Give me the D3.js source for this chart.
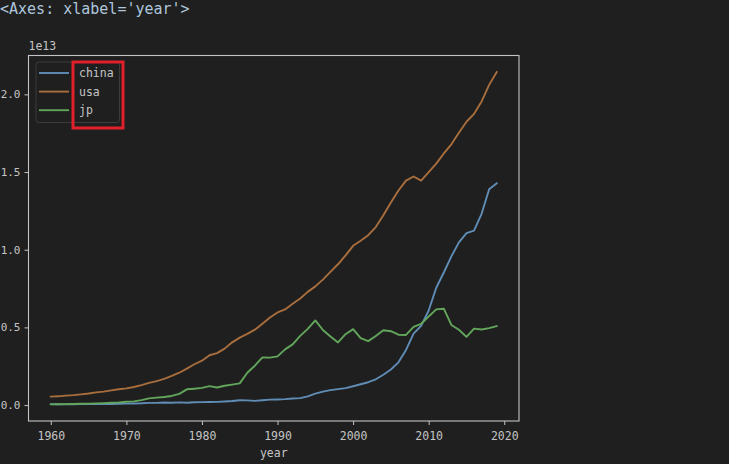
<!DOCTYPE html>
<html><head><meta charset="utf-8">
<script src="https://cdn.jsdelivr.net/npm/d3@7"></script>
<style>
html,body{margin:0;padding:0;background:#1f1f1f;}
svg{display:block;}
</style></head>
<body>
<script>
// GDP (USD, units of 1e12)
const years = d3.range(1960, 2020);
const china = [0.060,0.050,0.047,0.051,0.060,0.070,0.077,0.073,0.070,0.079,0.093,0.100,0.114,0.139,0.144,0.163,0.154,0.175,0.150,0.178,0.191,0.196,0.205,0.230,0.260,0.309,0.301,0.273,0.312,0.348,0.361,0.383,0.427,0.445,0.564,0.734,0.864,0.962,1.029,1.094,1.211,1.339,1.471,1.660,1.955,2.286,2.752,3.552,4.594,5.102,6.087,7.552,8.532,9.570,10.476,11.062,11.233,12.310,13.895,14.280];
const usa = [0.543,0.563,0.605,0.638,0.686,0.744,0.815,0.862,0.943,1.019,1.073,1.165,1.280,1.425,1.545,1.684,1.873,2.082,2.351,2.627,2.857,3.207,3.343,3.634,4.037,4.339,4.580,4.855,5.236,5.642,5.963,6.158,6.520,6.859,7.287,7.640,8.073,8.578,9.063,9.631,10.252,10.582,10.936,11.458,12.214,13.037,13.815,14.452,14.713,14.449,14.992,15.543,16.197,16.785,17.527,18.238,18.745,19.543,20.612,21.433];
const jp = [0.044,0.054,0.061,0.070,0.082,0.091,0.106,0.124,0.147,0.172,0.213,0.241,0.318,0.432,0.479,0.521,0.587,0.722,1.014,1.055,1.105,1.218,1.134,1.243,1.318,1.399,2.079,2.533,3.072,3.055,3.133,3.584,3.909,4.455,4.907,5.449,4.833,4.415,4.032,4.562,4.888,4.304,4.115,4.446,4.815,4.755,4.530,4.515,5.038,5.231,5.700,6.158,6.203,5.156,4.850,4.390,4.923,4.867,4.955,5.082];
const seriesNames = ["china","usa","jp"];
const seriesColors = ["#5f8db6","#a96e3d","#62a65c"];
const xTicks = [1960,1970,1980,1990,2000,2010,2020];
const yTicks = [0,5,10,15,20]; // in 1e12 -> labels x 1e13
const yTickLabels = ["0.0","0.5","1.0","1.5","2.0"];

const W = 729, H = 464;
const L = 28.5, R = 519, T = 55.5, B = 421;
const svg = d3.select("body").append("svg").attr("width", W).attr("height", H);
svg.append("rect").attr("width", W).attr("height", H).attr("fill", "#1f1f1f");

svg.append("text").attr("x", 0).attr("y", 14)
  .attr("font-family", "DejaVu Sans Mono, monospace").attr("font-size", 15)
  .attr("fill", "#aec6dc").text("<Axes: xlabel='year'>");

const all = [...china, ...usa, ...jp];
const ymin = d3.min(all), ymax = d3.max(all), yr = ymax - ymin;
const xr = 2019 - 1960;
const x = d3.scaleLinear().domain([1960 - 0.05*xr, 2019 + 0.05*xr]).range([L, R]);
const y = d3.scaleLinear().domain([ymin - 0.05*yr, ymax + 0.05*yr]).range([B, T]);

const fg = "#c4c4c4";
const font = "DejaVu Sans Mono, monospace";

// lines
const data = [china, usa, jp];
const line = d3.line().x((d,i) => x(years[i])).y(d => y(d));
data.forEach((s, k) => {
  svg.append("path").datum(s).attr("d", line).attr("fill", "none")
    .attr("stroke", seriesColors[k]).attr("stroke-width", 1.9)
    .attr("stroke-linejoin", "round").attr("stroke-linecap", "square");
});

// frame
svg.append("rect").attr("x", L).attr("y", T).attr("width", R - L).attr("height", B - T)
  .attr("fill", "none").attr("stroke", fg).attr("stroke-width", 1.1);

// axes
const xAxis = d3.axisBottom(x).tickValues(xTicks).tickFormat(d3.format("d")).tickSize(4).tickPadding(4);
const gx = svg.append("g").attr("transform", `translate(0,${B})`).call(xAxis);
const yAxis = d3.axisLeft(y).tickValues(yTicks).tickFormat((d,i) => yTickLabels[i]).tickSize(4).tickPadding(4);
const gy = svg.append("g").attr("transform", `translate(${L},0)`).call(yAxis);
[gx, gy].forEach(g => {
  g.select(".domain").remove();
  g.selectAll("line").attr("stroke", fg).attr("stroke-width", 1);
  g.selectAll("text").attr("fill", fg).attr("font-family", font).attr("font-size", 11.5);
});
gx.selectAll("text").attr("dy", "0.95em");
gy.selectAll("text").attr("font-size", 11);

svg.append("text").attr("x", (L + R) / 2).attr("y", 457).attr("text-anchor", "middle")
  .attr("font-family", font).attr("font-size", 11.5).attr("fill", fg).text("year");
svg.append("text").attr("x", L).attr("y", 50)
  .attr("font-family", font).attr("font-size", 11.5).attr("fill", fg).text("1e13");

// legend
svg.append("rect").attr("x", 36).attr("y", 62).attr("width", 83.5).attr("height", 60.5)
  .attr("rx", 3).attr("fill", "#1f1f1f").attr("fill-opacity", 0.8)
  .attr("stroke", "#3c3c3c").attr("stroke-width", 1);
seriesNames.forEach((n, k) => {
  const ly = 73 + k * 18.6;
  svg.append("line").attr("x1", 39).attr("x2", 69).attr("y1", ly).attr("y2", ly)
    .attr("stroke", seriesColors[k]).attr("stroke-width", 1.9);
  svg.append("text").attr("x", 79).attr("y", ly + 4)
    .attr("font-family", font).attr("font-size", 11.5).attr("fill", fg).text(n);
});

// red highlight box
svg.append("rect").attr("x", 73).attr("y", 62).attr("width", 50).attr("height", 66)
  .attr("fill", "none").attr("stroke", "#e0202a").attr("stroke-width", 3);
</script>
</body></html>
